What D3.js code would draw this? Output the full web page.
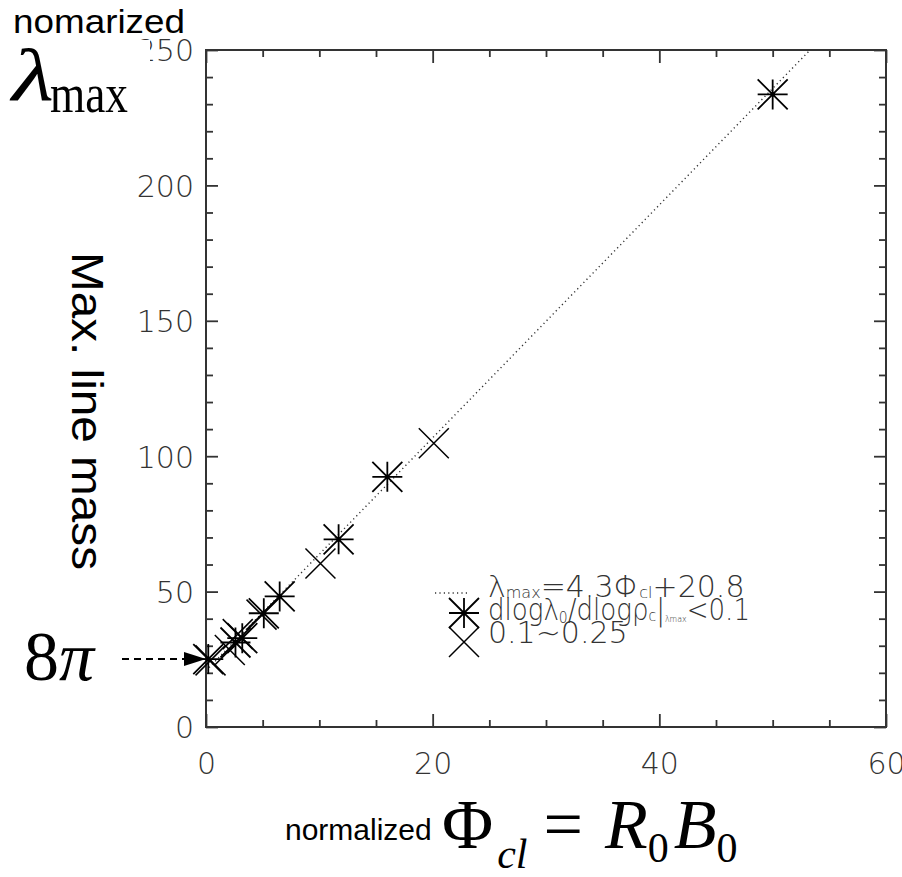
<!DOCTYPE html>
<html>
<head>
<meta charset="utf-8">
<script src="https://d3js.org/d3.v7.min.js"></script>
<style>
  html, body { margin: 0; background: #fff; }
  svg { display: block; }
  .tk text { font-family: "DejaVu Sans", sans-serif; font-weight: 200; font-size: 30px; fill: #333; }
  .tk line { stroke: #333; stroke-width: 1.8; }
  .tk path { display: none; }
  .leg { font-family: "DejaVu Sans", sans-serif; font-weight: 200; fill: #333; }
</style>
</head>
<body>
<svg id="chart" width="902" height="877"></svg>
<script>
  // fit line: lambda_max = 4.3 Phi_cl + 20.8
  const fitSlope = 4.3;
  const fitIntercept = 20.8;

  // dlog(lambda0)/dlog(rho_c) < 0.1  (asterisks)
  const astPhi = [0.2, 2.6, 3.2, 5.1, 6.5, 11.7, 16.0, 50.0];
  const astLam = [25.1, 31.2, 32.8, 42.0, 48.2, 69.3, 92.4, 233.6];

  // 0.1 ~ 0.25  (crosses)
  const crossPhi = [0.4, 2.1, 2.8, 4.9, 10.1, 20.1];
  const crossLam = [24.6, 28.4, 34.3, 41.5, 60.4, 104.8];

  const xTicks = [0, 20, 40, 60];
  const yTicks = [0, 50, 100, 150, 200, 250];

  const svg = d3.select("#chart");
  const x = d3.scaleLinear().domain([0, 60]).range([206, 886]);
  const y = d3.scaleLinear().domain([0, 250]).range([727, 50]);

  const xMinor = d3.range(0, 61, 5).filter(v => !xTicks.includes(v));
  const yMinor = d3.range(0, 251, 10).filter(v => !yTicks.includes(v));

  // ticks, all pointing inward
  const addAxis = (gen, tx, ty) =>
    svg.append("g").attr("class", "tk").attr("transform", `translate(${tx},${ty})`).call(gen);

  addAxis(d3.axisBottom(x).tickValues(xTicks).tickSize(-13).tickPadding(26).tickFormat(d3.format("d")), 0, 727);
  addAxis(d3.axisBottom(x).tickValues(xMinor).tickSize(-7).tickFormat(""), 0, 727);
  addAxis(d3.axisTop(x).tickValues(xTicks).tickSize(-13).tickFormat(""), 0, 50);
  addAxis(d3.axisTop(x).tickValues(xMinor).tickSize(-7).tickFormat(""), 0, 50);
  const yAx = addAxis(d3.axisLeft(y).tickValues(yTicks).tickSize(-12).tickPadding(12).tickFormat(d3.format("d")), 206, 0);
  addAxis(d3.axisLeft(y).tickValues(yMinor).tickSize(-7).tickFormat(""), 206, 0);
  addAxis(d3.axisRight(y).tickValues(yTicks).tickSize(-12).tickFormat(""), 886, 0);
  addAxis(d3.axisRight(y).tickValues(yMinor).tickSize(-7).tickFormat(""), 886, 0);
  yAx.selectAll("text").attr("dy", "0.36em");

  svg.append("rect")
    .attr("x", x(0)).attr("y", y(250))
    .attr("width", x(60) - x(0)).attr("height", y(0) - y(250))
    .attr("fill", "none").attr("stroke", "#333").attr("stroke-width", 2);

  // fit line, clipped to the frame
  const phiTop = (250 - fitIntercept) / fitSlope;
  svg.append("line")
    .attr("x1", x(0)).attr("y1", y(fitIntercept))
    .attr("x2", x(phiTop)).attr("y2", y(250))
    .attr("stroke", "#333").attr("stroke-width", 1.4)
    .attr("stroke-dasharray", "1.2,3.2");

  const s = 15;
  function asterisk(g) {
    g.append("path")
      .attr("d", `M0,${-s}V${s}M${-s},0H${s}M${-s},${-s}L${s},${s}M${-s},${s}L${s},${-s}`)
      .attr("stroke", "#000").attr("stroke-width", 1.8).attr("fill", "none");
    g.append("circle").attr("r", 1.8).attr("fill", "#000");
  }
  function cross(g) {
    g.append("path")
      .attr("d", `M${-s},${-s}L${s},${s}M${-s},${s}L${s},${-s}`)
      .attr("stroke", "#000").attr("stroke-width", 1.5).attr("fill", "none");
  }

  const astData = astPhi.map((p, i) => [p, astLam[i]]);
  const crossData = crossPhi.map((p, i) => [p, crossLam[i]]);

  svg.append("g").selectAll("g").data(crossData).join("g")
    .attr("transform", d => `translate(${x(d[0])},${y(d[1])})`)
    .each(function () { cross(d3.select(this)); });
  svg.append("g").selectAll("g").data(astData).join("g")
    .attr("transform", d => `translate(${x(d[0])},${y(d[1])})`)
    .each(function () { asterisk(d3.select(this)); });

  // legend
  const lx = 488;
  svg.append("line").attr("x1", 435).attr("x2", 468).attr("y1", 593).attr("y2", 593)
    .attr("stroke", "#333").attr("stroke-width", 1.4).attr("stroke-dasharray", "1.2,3.2");
  asterisk(svg.append("g").attr("transform", "translate(464,613)"));
  cross(svg.append("g").attr("transform", "translate(464,642)"));

  const l1 = svg.append("text").attr("class", "leg").attr("x", lx).attr("y", 597).attr("font-size", 30);
  l1.append("tspan").text("λ");
  l1.append("tspan").attr("font-size", 16).attr("dy", 1).text("max");
  l1.append("tspan").attr("dy", -1).text("=4.3Φ");
  l1.append("tspan").attr("font-size", 16).attr("dy", 1).text("cl");
  l1.append("tspan").attr("dy", -1).text("+20.8");

  const l2 = svg.append("text").attr("class", "leg").attr("x", lx).attr("y", 620).attr("font-size", 30)
    .attr("textLength", 262).attr("lengthAdjust", "spacingAndGlyphs");
  l2.append("tspan").text("dlogλ");
  l2.append("tspan").attr("font-size", 16).attr("dy", 3).text("0");
  l2.append("tspan").attr("dy", -3).text("/dlogρ");
  l2.append("tspan").attr("font-size", 16).attr("dy", 1).text("c");
  l2.append("tspan").attr("dy", -1).text("|");
  l2.append("tspan").attr("font-size", 9).attr("dy", 2).text("λmax");
  l2.append("tspan").attr("dy", -2).text("<0.1");

  svg.append("text").attr("class", "leg").attr("x", lx).attr("y", 643).attr("font-size", 30).text("0.1~0.25");

  // big labels
  const sans = "Liberation Sans, Arial, sans-serif";
  const serif = "Liberation Serif, Times New Roman, serif";

  svg.append("rect").attr("x", 0).attr("y", 40).attr("width", 150).attr("height", 80).attr("fill", "#fff");
  svg.append("text").attr("x", 13).attr("y", 33).attr("font-family", sans).attr("font-size", 34)
    .attr("textLength", 172).attr("lengthAdjust", "spacingAndGlyphs").text("nomarized");
  svg.append("text").attr("x", 12).attr("y", 100).attr("font-family", serif).attr("font-style", "italic")
    .attr("font-size", 74).attr("textLength", 42).attr("lengthAdjust", "spacingAndGlyphs").text("λ");
  svg.append("text").attr("x", 50).attr("y", 112).attr("font-family", serif).attr("font-size", 54)
    .attr("textLength", 78).attr("lengthAdjust", "spacingAndGlyphs").text("max");

  svg.append("text").attr("transform", "translate(72,411) rotate(90)")
    .attr("text-anchor", "middle").attr("font-family", sans).attr("font-size", 44)
    .attr("textLength", 318).attr("lengthAdjust", "spacingAndGlyphs").text("Max. line mass");

  const eight = svg.append("text").attr("x", 24).attr("y", 680).attr("font-family", serif).attr("font-size", 70);
  eight.append("tspan").text("8");
  eight.append("tspan").attr("font-style", "italic").text("π");

  svg.append("line").attr("x1", 122).attr("x2", 186).attr("y1", y(8 * Math.PI)).attr("y2", y(8 * Math.PI))
    .attr("stroke", "#000").attr("stroke-width", 2).attr("stroke-dasharray", "7,5");
  svg.append("path")
    .attr("d", `M184,${y(8 * Math.PI) - 7}L206,${y(8 * Math.PI)}L184,${y(8 * Math.PI) + 7}Z`)
    .attr("fill", "#000");

  const xl = svg.append("text").attr("y", 848).attr("font-family", serif);
  xl.append("tspan").attr("x", 285).attr("y", 840).attr("font-family", sans).attr("font-size", 30)
    .text("normalized");
  xl.append("tspan").attr("x", 442).attr("y", 848).attr("font-size", 70).text("Φ");
  xl.append("tspan").attr("y", 868).attr("dx", 4).attr("font-size", 42).attr("font-style", "italic").text("cl");
  xl.append("tspan").attr("y", 848).attr("dx", 16).attr("font-size", 70).text("=");
  xl.append("tspan").attr("dx", 22).attr("font-size", 70).attr("font-style", "italic").text("R");
  xl.append("tspan").attr("y", 862).attr("font-size", 42).text("0");
  xl.append("tspan").attr("y", 848).attr("dx", 5).attr("font-size", 70).attr("font-style", "italic").text("B");
  xl.append("tspan").attr("y", 862).attr("font-size", 42).text("0");
</script>
</body>
</html>
